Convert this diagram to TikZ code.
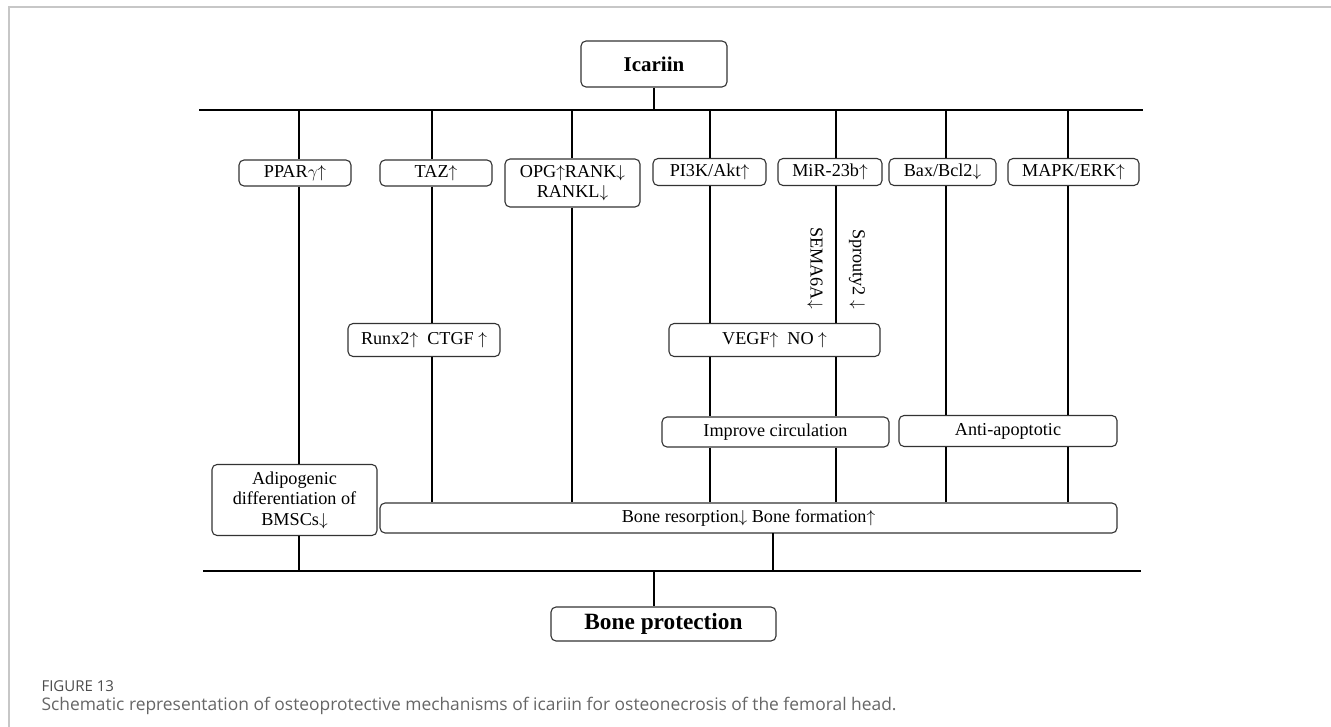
\documentclass[tikz,border=0pt]{standalone}
\usepackage{fontspec}
\setmainfont{Liberation Serif}
\newfontfamily\capfont{Open Sans}
\newcommand{\upa}{$\uparrow$}
\newcommand{\dna}{$\downarrow$}
\begin{document}
\begin{tikzpicture}[x=1pt,y=-1pt,
    box/.style={draw=black!80,rounded corners=5pt,line width=1.1pt,fill=white,align=center,inner sep=0pt,font=\fontsize{18.2}{20.5}\selectfont},
    bus/.style={line width=2.8pt},
    link/.style={line width=1.8pt}]
    \useasboundingbox (0,0) rectangle (1331,727);
    \draw[black!22,line width=1.5pt] (1331,7) -- (9,7) -- (9,727);
    \node[box,minimum width=146,minimum height=46,font=\fontsize{21}{24}\selectfont\bfseries] (icariin) at (654,64) {Icariin};
    \node[box,minimum width=112,minimum height=26] (ppar) at (295,173) {PPAR$\gamma$\upa};
    \node[box,minimum width=112,minimum height=26] (taz) at (436,173) {TAZ\upa};
    \node[box,minimum width=135,minimum height=48] (opg) at (572.5,183) {OPG\upa RANK\dna\\RANKL\dna};
    \node[box,minimum width=113,minimum height=27] (pik) at (709.5,172) {PI3K/Akt\upa};
    \node[box,minimum width=104,minimum height=27] (mir) at (830,172) {MiR-23b\upa};
    \node[box,minimum width=107,minimum height=27] (bax) at (942.5,172) {Bax/Bcl2\dna};
    \node[box,minimum width=131,minimum height=27] (mapk) at (1073.5,172) {MAPK/ERK\upa};
    \node[box,minimum width=152,minimum height=33] (runx) at (424,340) {Runx2\upa\ \ CTGF \upa};
    \node[box,minimum width=211,minimum height=33] (vegf) at (774.5,340) {VEGF\upa\ \ NO \upa};
    \node[box,minimum width=227,minimum height=30] (improve) at (775.5,432) {Improve circulation};
    \node[box,minimum width=218,minimum height=31] (anti) at (1008,431) {Anti-apoptotic};
    \node[box,minimum width=165,minimum height=71] (adipo) at (294.5,500) {Adipogenic\\differentiation of\\BMSCs\dna};
    \node[box,minimum width=737,minimum height=30] (bone) at (748.5,518) {Bone resorption\dna\ Bone formation\upa};
    \node[box,minimum width=225,minimum height=34,font=\fontsize{23.3}{26}\selectfont\bfseries] (prot) at (663.5,624) {Bone protection};
    \node[rotate=-90,font=\fontsize{18.2}{20}\selectfont] (sema) at (815,268) {SEMA6A\dna};
    \node[rotate=-90,font=\fontsize{18.2}{20}\selectfont] (spry) at (857,269) {Sprouty2 \dna};
    \coordinate (bt) at (654,110);
    \coordinate (bb) at (654,571);
    \draw[bus] (199,110) -- (1143,110);
    \draw[bus] (203,571) -- (1141,571);
    \draw[bus] (icariin) -- (bt);
    \draw[bus] (bb) -- (bb |- prot.north);
    \coordinate (l1) at (299,110);
    \coordinate (l2) at (432,110);
    \coordinate (l3) at (572,110);
    \coordinate (l4) at (710,110);
    \coordinate (l5) at (836,110);
    \coordinate (l6) at (946,110);
    \coordinate (l7) at (1068,110);
    \draw[link] (l1) -- (l1 |- ppar.north) (l1 |- ppar.south) -- (l1 |- adipo.north) (l1 |- adipo.south) -- (l1 |- bb);
    \draw[link] (l2) -- (l2 |- taz.north) (l2 |- taz.south) -- (l2 |- runx.north) (l2 |- runx.south) -- (l2 |- bone.north);
    \draw[link] (l3) -- (l3 |- opg.north) (l3 |- opg.south) -- (l3 |- bone.north);
    \draw[link] (l4) -- (l4 |- pik.north) (l4 |- pik.south) -- (l4 |- vegf.north) (l4 |- vegf.south) -- (l4 |- improve.north) (l4 |- improve.south) -- (l4 |- bone.north);
    \draw[link] (l5) -- (l5 |- mir.north) (l5 |- mir.south) -- (l5 |- vegf.north) (l5 |- vegf.south) -- (l5 |- improve.north) (l5 |- improve.south) -- (l5 |- bone.north);
    \draw[link] (l6) -- (l6 |- bax.north) (l6 |- bax.south) -- (l6 |- anti.north) (l6 |- anti.south) -- (l6 |- bone.north);
    \draw[link] (l7) -- (l7 |- mapk.north) (l7 |- mapk.south) -- (l7 |- anti.north) (l7 |- anti.south) -- (l7 |- bone.north);
    \coordinate (bs) at (773,533);
    \draw[link] (bs) -- (bs |- bb);
    \node[anchor=west,text=black!70,font=\capfont\fontsize{15}{17}\selectfont] (fig) at (38,686) {FIGURE 13};
    \node[anchor=west,text=black!60,font=\capfont\fontsize{17.4}{19}\selectfont] (cap) at (38,706) {Schematic representation of osteoprotective mechanisms of icariin for osteonecrosis of the femoral head.};
\end{tikzpicture}
\end{document}
